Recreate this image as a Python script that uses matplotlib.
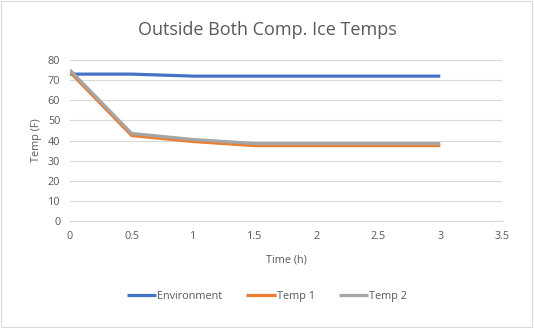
import matplotlib.pyplot as plt

plt.rcParams['font.family'] = ['Open Sans', 'DejaVu Sans']

time_h = [0, 0.5, 1, 1.5, 2, 2.5, 3]
environment = [73, 73, 72, 72, 72, 72, 72]
temp1 = [74, 42.5, 39.5, 37.5, 37.5, 37.5, 37.5]
temp2 = [75, 43.5, 40.5, 38.5, 38.5, 38.5, 38.5]

text_col = '#595959'

fig = plt.figure(figsize=(5.34, 3.28), dpi=100)
ax = fig.add_axes([0.131, 0.326, 0.809, 0.491])

ax.plot(time_h, environment, color='#4472C4', lw=2.3, label='Environment', solid_capstyle='butt')
ax.plot(time_h, temp1, color='#ED7D31', lw=2.3, label='Temp 1', solid_capstyle='butt')
ax.plot(time_h, temp2, color='#A5A5A5', lw=2.3, label='Temp 2', solid_capstyle='butt')

ax.set_xlim(0, 3.5)
ax.set_ylim(0, 80)
ax.set_xticks([0, 0.5, 1, 1.5, 2, 2.5, 3, 3.5])
ax.set_xticklabels(['0', '0.5', '1', '1.5', '2', '2.5', '3', '3.5'])
ax.set_yticks(range(0, 81, 10))
ax.grid(axis='y', color='#D9D9D9', lw=0.8)
ax.set_axisbelow(True)
for s in ['top', 'right', 'left']:
    ax.spines[s].set_visible(False)
ax.spines['bottom'].set_color('#D9D9D9')
ax.tick_params(length=0, colors=text_col, labelsize=7.8, pad=7)

ax.set_xlabel('Time (h)', color=text_col, fontsize=7.8, labelpad=9)
ax.set_ylabel('Temp (F)', color=text_col, fontsize=7.8, labelpad=4)
fig.suptitle('Outside Both Comp. Ice Temps', color=text_col, fontsize=13, y=0.935)

fig.legend(loc='lower center', bbox_to_anchor=(0.5, 0.05), ncol=3, frameon=False,
           fontsize=7.8, handlelength=2.7, handletextpad=0.1, columnspacing=2.2,
           labelcolor=text_col)

fig.patches.append(plt.Rectangle((0.002, 0.003), 0.995, 0.993, transform=fig.transFigure,
                                 fill=False, edgecolor='#D9D9D9', lw=0.8))

fig.savefig('out.png', dpi=100)
